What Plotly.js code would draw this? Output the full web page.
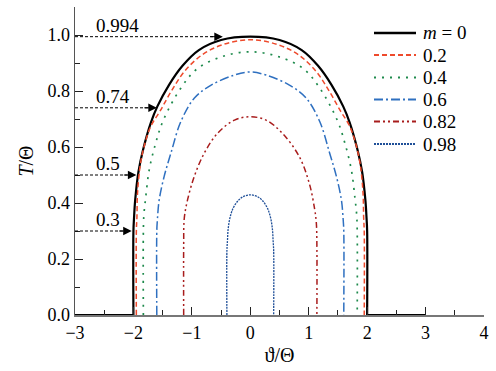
<!DOCTYPE html>
<html>
<head>
<meta charset="utf-8">
<script src="https://cdn.plot.ly/plotly-3.0.1.min.js"></script>
<style>
html,body{margin:0;padding:0;background:#fff}
#plot{width:496px;height:371px}
</style>
</head>
<body>
<div id="plot"></div>
<script>
// Series data: each curve is a closed dome T(θ)
const floorL_x = [-3, -2.0];
const floorR_x = [2.0, 3];
const floor_y = [0, 0];

const m0_x  = [-2.0, -2.0, -1.99, -1.97, -1.915, -1.835, -1.70, -1.59, -1.39, -1.16, -0.88, -0.5, 0, 0.5, 0.88, 1.16, 1.39, 1.59, 1.70, 1.835, 1.915, 1.97, 1.99, 2.0, 2.0];
const m0_y  = [0, 0.3, 0.345, 0.41, 0.51, 0.59, 0.688, 0.745, 0.822, 0.89, 0.946, 0.982, 0.994, 0.982, 0.946, 0.89, 0.822, 0.745, 0.688, 0.59, 0.51, 0.41, 0.345, 0.3, 0];

const m02_x = [-1.95, -1.95, -1.94, -1.93, -1.88, -1.8, -1.7, -1.54, -1.35, -1.13, -0.82, -0.45, 0, 0.45, 0.82, 1.13, 1.35, 1.54, 1.7, 1.8, 1.88, 1.93, 1.94, 1.95, 1.95];
const m02_y = [0, 0.3, 0.35, 0.435, 0.54, 0.615, 0.675, 0.73, 0.8, 0.869, 0.93, 0.967, 0.983, 0.967, 0.93, 0.869, 0.8, 0.73, 0.675, 0.615, 0.54, 0.435, 0.35, 0.3, 0];

const m04_x = [-1.83, -1.83, -1.82, -1.79, -1.73, -1.62, -1.49, -1.19, -0.9, -0.45, 0, 0.45, 0.9, 1.19, 1.49, 1.62, 1.73, 1.79, 1.82, 1.83, 1.83];
const m04_y = [0, 0.3, 0.36, 0.42, 0.518, 0.613, 0.695, 0.81, 0.881, 0.925, 0.94, 0.925, 0.881, 0.81, 0.695, 0.613, 0.518, 0.42, 0.36, 0.3, 0];

const m06_x = [-1.6, -1.6, -1.59, -1.56, -1.475, -1.36, -1.19, -0.96, -0.67, -0.27, 0, 0.27, 0.67, 0.96, 1.19, 1.36, 1.475, 1.56, 1.59, 1.6, 1.6];
const m06_y = [0, 0.3, 0.34, 0.41, 0.494, 0.577, 0.69, 0.774, 0.821, 0.857, 0.868, 0.857, 0.821, 0.774, 0.69, 0.577, 0.494, 0.41, 0.34, 0.3, 0];

const m082_x = [-1.14, -1.14, -1.13, -1.075, -0.96, -0.79, -0.56, -0.27, 0, 0.27, 0.55, 0.84, 1.01, 1.1, 1.13, 1.14, 1.14];
const m082_y = [0, 0.25, 0.345, 0.41, 0.494, 0.577, 0.649, 0.696, 0.708, 0.696, 0.649, 0.565, 0.47, 0.38, 0.33, 0.25, 0];

const m098_x = [-0.4, -0.4, -0.39, -0.38, -0.35, -0.295, -0.21, -0.12, 0, 0.12, 0.21, 0.295, 0.35, 0.38, 0.39, 0.4, 0.4];
const m098_y = [0, 0.23, 0.268, 0.304, 0.345, 0.381, 0.408, 0.423, 0.429, 0.423, 0.408, 0.381, 0.345, 0.304, 0.268, 0.23, 0];

const seriesNames = ['<i>m</i> = 0', '0.2', '0.4', '0.6', '0.82', '0.98'];

// Annotated levels on the m = 0 curve
const levelValues = [0.994, 0.74, 0.5, 0.3];
const levelLabels = ['0.994', '0.74', '0.5', '0.3'];
const levelTipX   = [-0.47, -1.6, -1.95, -2.03];

const FONT = 'Times New Roman';

const styles = [
  {color: '#000000', width: 2.2, dash: 'solid'},
  {color: '#ee4a2c', width: 1.5, dash: '5px,3px'},
  {color: '#1e8a4c', width: 1.7, dash: '2px,6px'},
  {color: '#2f70c0', width: 1.5, dash: '9px,3px,2px,3px'},
  {color: '#a81c1c', width: 1.5, dash: '6px,3px,2px,3px,2px,3px'},
  {color: '#1f4f98', width: 1.3, dash: '2px,1px'}
];
const xs = [m0_x, m02_x, m04_x, m06_x, m082_x, m098_x];
const ys = [m0_y, m02_y, m04_y, m06_y, m082_y, m098_y];

const traces = [floorL_x, floorR_x].map(fx => ({
  x: fx, y: floor_y, type: 'scatter', mode: 'lines', showlegend: false,
  line: {color: styles[0].color, width: styles[0].width}
}));
xs.forEach((x, i) => traces.push({
  x: x, y: ys[i], type: 'scatter', mode: 'lines', name: seriesNames[i], showlegend: false,
  line: {color: styles[i].color, width: styles[i].width, dash: styles[i].dash, shape: 'spline', smoothing: 1}
}));

const shapes = levelValues.map((v, i) => ({
  type: 'line', xref: 'x', yref: 'y', x0: -3, x1: levelTipX[i] - 0.15, y0: v, y1: v,
  line: {color: '#000', width: 1, dash: '3px,2px'}
}));

const annotations = [];
levelValues.forEach((v, i) => {
  annotations.push({
    x: levelTipX[i], y: v, xref: 'x', yref: 'y', text: '', showarrow: true,
    ax: -14, ay: 0, arrowhead: 2, arrowsize: 1.7, arrowwidth: 1, arrowcolor: '#000', standoff: 0
  });
  annotations.push({
    x: -2.67, y: v, xref: 'x', yref: 'y', text: levelLabels[i], showarrow: false,
    xanchor: 'left', yanchor: 'bottom', yshift: -1,
    font: {family: FONT, size: 19, color: '#000'}
  });
});

// Custom legend (line samples + labels), in paper coordinates
const plotW = 496 - 75 - 12, plotH = 371 - 7 - 56;
const legX0 = (374 - 75) / plotW, legX1 = (416 - 75) / plotW, legTX = (421 - 75) / plotW;
const legRowsPx = [33, 55, 77.5, 99.5, 121.5, 144];
seriesNames.forEach((n, i) => {
  const yp = (315 - legRowsPx[i]) / plotH;
  shapes.push({type: 'line', xref: 'paper', yref: 'paper', x0: legX0, x1: legX1, y0: yp, y1: yp,
    line: {color: styles[i].color, width: i === 0 ? 2.4 : 1.8, dash: styles[i].dash}});
  annotations.push({x: legTX, y: yp, xref: 'paper', yref: 'paper', text: n, showarrow: false,
    xanchor: 'left', yanchor: 'middle', font: {family: FONT, size: 19, color: '#000'}});
});

const layout = {
  width: 496, height: 371,
  margin: {l: 75, r: 12, t: 7, b: 56},
  font: {family: FONT, size: 18, color: '#000'},
  xaxis: {
    range: [-3, 4], dtick: 1, tick0: 0, ticks: 'inside', ticklen: 8, tickwidth: 1, tickcolor: '#222',
    showline: true, linecolor: '#777', linewidth: 2, showgrid: false, zeroline: false,
    minor: {dtick: 0.5, ticks: 'inside', ticklen: 5, tickcolor: '#222', showgrid: false},
    tickfont: {family: FONT, size: 18, color: '#000'},
    title: {text: 'ϑ/Θ', font: {family: FONT, size: 20, color: '#000'}, standoff: 6}
  },
  yaxis: {
    range: [0, 1.1], dtick: 0.2, tick0: 0, tickformat: '.1f', ticks: 'inside', ticklen: 8, tickwidth: 1, tickcolor: '#222',
    showline: true, linecolor: '#555', linewidth: 1.5, showgrid: false, zeroline: false,
    minor: {dtick: 0.1, ticks: 'inside', ticklen: 5, tickcolor: '#222', showgrid: false},
    tickfont: {family: FONT, size: 18, color: '#000'},
    title: {text: '<i>T</i>/Θ', font: {family: FONT, size: 20, color: '#000'}, standoff: 8}
  },
  shapes: shapes,
  annotations: annotations,
  showlegend: false
};

Plotly.newPlot('plot', traces, layout, {staticPlot: true}).then(gd => {
  gd.querySelectorAll('text').forEach(t => {
    t.style.fontFamily = '"Times New Roman", "Liberation Serif", serif';
    t.setAttribute('font-family', 'Times New Roman, Liberation Serif, serif');
  });
});
</script>
</body>
</html>
